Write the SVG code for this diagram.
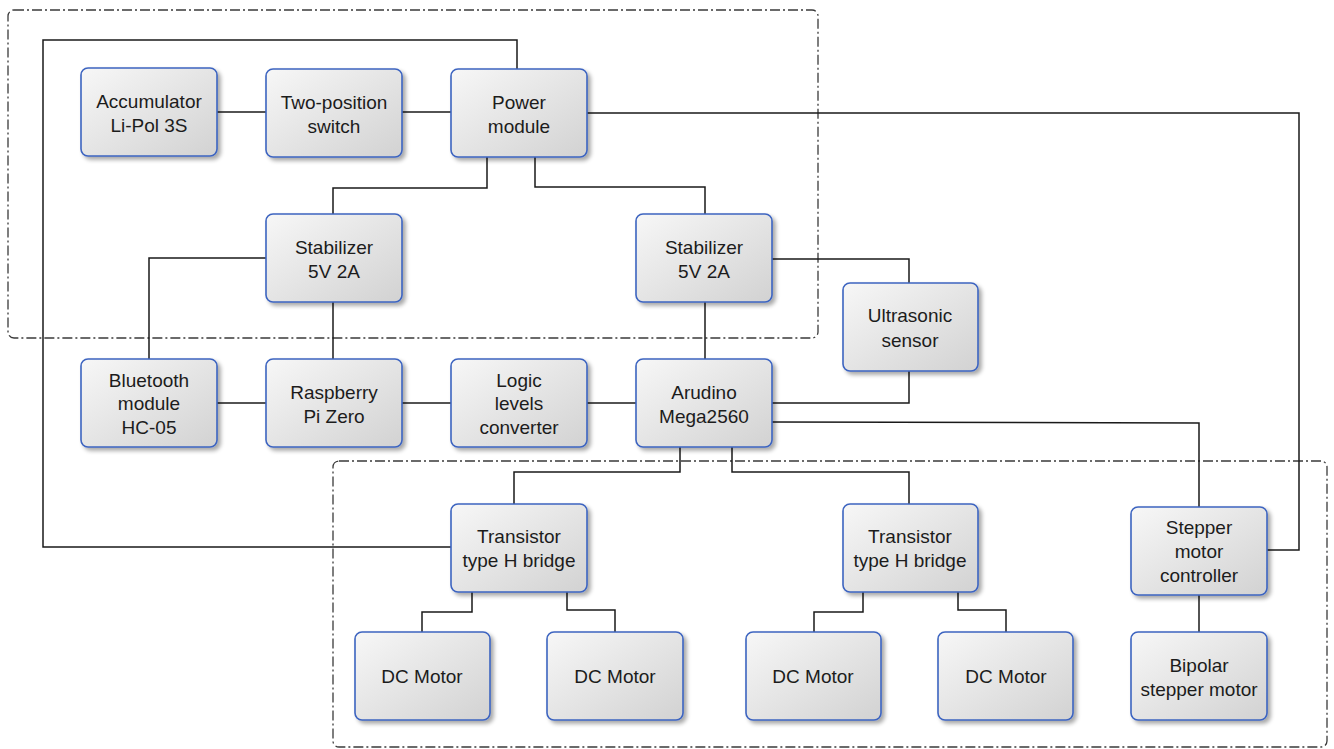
<svg xmlns="http://www.w3.org/2000/svg" width="1334" height="749" viewBox="0 0 1334 749">
<defs>
<linearGradient id="g" x1="0" y1="0" x2="1" y2="1">
<stop offset="0" stop-color="#f7f7f7"/>
<stop offset="1" stop-color="#d2d2d2"/>
</linearGradient>
<filter id="sh" x="-10%" y="-10%" width="130%" height="130%">
<feGaussianBlur in="SourceAlpha" stdDeviation="2"/>
<feOffset dx="3" dy="3" result="b"/>
<feComponentTransfer><feFuncA type="linear" slope="0.35"/></feComponentTransfer>
<feMerge><feMergeNode/><feMergeNode in="SourceGraphic"/></feMerge>
</filter>
</defs>
<style>
.n rect{fill:url(#g);stroke:#3c64c0;stroke-width:1.6;filter:url(#sh)}
.n text{font-family:"Liberation Sans",Arial,sans-serif;font-size:19px;fill:#1c1c1c;text-anchor:middle}
.c{fill:none;stroke:#1a1a1a;stroke-width:1.5}
.grp{fill:none;stroke:#3a3a3a;stroke-width:1.3;stroke-dasharray:10 3 2 3}
</style>
<rect width="1334" height="749" fill="#ffffff"/>
<g id="groups">
<rect class="grp" x="8" y="10" width="810" height="328" rx="6"/>
<rect class="grp" x="333" y="461" width="994" height="286" rx="6"/>
</g>
<g id="connectors">
<path class="c" d="M217 112H266"/>
<path class="c" d="M402 112H451"/>
<path class="c" d="M517 69V40H43V547H451"/>
<path class="c" d="M587 113H1299V550H1267"/>
<path class="c" d="M487 157V188H333V214"/>
<path class="c" d="M535 157V187H705V214"/>
<path class="c" d="M266 258H149V359"/>
<path class="c" d="M333 302V359"/>
<path class="c" d="M705 302V359"/>
<path class="c" d="M772 259H909V283"/>
<path class="c" d="M909 371V403H772"/>
<path class="c" d="M772 422L1199 423V507"/>
<path class="c" d="M680 447V472H514V504"/>
<path class="c" d="M732 447V472H909V504"/>
<path class="c" d="M217 403H266"/>
<path class="c" d="M402 403H451"/>
<path class="c" d="M587 403H636"/>
<path class="c" d="M472 592V612H422V632"/>
<path class="c" d="M567 592V610H615V632"/>
<path class="c" d="M863 592V612H814V632"/>
<path class="c" d="M958 592V610H1006V632"/>
<path class="c" d="M1199 595V632"/>
</g>
<g id="accumulator" class="n"><rect x="81" y="68" width="136" height="88" rx="7"/><text x="149" y="108">Accumulator</text><text x="149" y="132">Li-Pol 3S</text></g>
<g id="switch" class="n"><rect x="266" y="69" width="136" height="88" rx="7"/><text x="334" y="109">Two-position</text><text x="334" y="133">switch</text></g>
<g id="power" class="n"><rect x="451" y="69" width="136" height="88" rx="7"/><text x="519" y="109">Power</text><text x="519" y="133">module</text></g>
<g id="stab1" class="n"><rect x="266" y="214" width="136" height="88" rx="7"/><text x="334" y="254">Stabilizer</text><text x="334" y="278">5V 2A</text></g>
<g id="stab2" class="n"><rect x="636" y="214" width="136" height="88" rx="7"/><text x="704" y="254">Stabilizer</text><text x="704" y="278">5V 2A</text></g>
<g id="ultrasonic" class="n"><rect x="843" y="283" width="135" height="88" rx="7"/><text x="910" y="322">Ultrasonic</text><text x="910" y="347">sensor</text></g>
<g id="bluetooth" class="n"><rect x="81" y="359" width="136" height="88" rx="7"/><text x="149" y="387">Bluetooth</text><text x="149" y="410">module</text><text x="149" y="434">HC-05</text></g>
<g id="raspberry" class="n"><rect x="266" y="359" width="136" height="88" rx="7"/><text x="334" y="399">Raspberry</text><text x="334" y="423">Pi Zero</text></g>
<g id="logic" class="n"><rect x="451" y="359" width="136" height="88" rx="7"/><text x="519" y="387">Logic</text><text x="519" y="410">levels</text><text x="519" y="434">converter</text></g>
<g id="arduino" class="n"><rect x="636" y="359" width="136" height="88" rx="7"/><text x="704" y="399">Arudino</text><text x="704" y="423">Mega2560</text></g>
<g id="hbridge1" class="n"><rect x="451" y="504" width="136" height="88" rx="7"/><text x="519" y="543">Transistor</text><text x="519" y="567">type H bridge</text></g>
<g id="hbridge2" class="n"><rect x="843" y="504" width="135" height="88" rx="7"/><text x="910" y="543">Transistor</text><text x="910" y="567">type H bridge</text></g>
<g id="stepper_ctrl" class="n"><rect x="1131" y="507" width="136" height="88" rx="7"/><text x="1199" y="534">Stepper</text><text x="1199" y="558">motor</text><text x="1199" y="582">controller</text></g>
<g id="dc1" class="n"><rect x="355" y="632" width="135" height="88" rx="7"/><text x="422" y="683">DC Motor</text></g>
<g id="dc2" class="n"><rect x="547" y="632" width="136" height="88" rx="7"/><text x="615" y="683">DC Motor</text></g>
<g id="dc3" class="n"><rect x="746" y="632" width="135" height="88" rx="7"/><text x="813" y="683">DC Motor</text></g>
<g id="dc4" class="n"><rect x="938" y="632" width="135" height="88" rx="7"/><text x="1006" y="683">DC Motor</text></g>
<g id="bipolar" class="n"><rect x="1131" y="632" width="136" height="88" rx="7"/><text x="1199" y="672">Bipolar</text><text x="1199" y="696">stepper motor</text></g>
</svg>
